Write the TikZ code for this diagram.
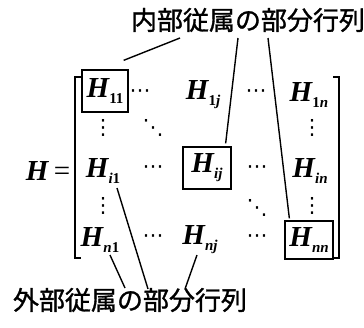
\documentclass[tikz,border=0pt]{standalone}
\usepackage{fontspec}
\setmainfont{Liberation Serif}
\newfontfamily\jpfont[FakeBold=1.2]{Noto Sans CJK JP}
\newfontfamily\dotfont{DejaVu Sans}
\newcommand{\Hsub}[1]{\textit{\textbf{H}}\kern-0.5pt\raisebox{-6pt}{\fontsize{15}{15}\selectfont\bfseries #1}}
\begin{document}
\begin{tikzpicture}[x=1pt,y=-1pt,
  ent/.style={font=\fontsize{29}{29}\selectfont, inner sep=0pt},
  boxed/.style={ent, draw, line width=1.3pt, minimum width=46pt, minimum height=42pt},
  dotsn/.style={font=\dotfont\fontsize{21}{21}\selectfont, inner sep=0pt},
  lbl/.style={font=\jpfont\fontsize{26}{26}\selectfont, inner sep=0pt},
  lead/.style={line width=1.4pt},
  brk/.style={line width=1.4pt}]
\useasboundingbox (0,0) rectangle (364,327);
% labels
\node[lbl] (top) at (248,20) {内部従属の部分行列};
\node[lbl] (bot) at (130,300) {外部従属の部分行列};
% H =
\node[ent] (Hlhs) at (48,171) {\textbf{\textit{H}}\,=};
% brackets
\coordinate (lbt) at (75,77);
\coordinate (lbb) at (75,258);
\coordinate (rbt) at (339,77);
\coordinate (rbb) at (339,258);
\draw[brk] ([xshift=6pt]lbt) -- (lbt) -- (lbb) -- ([xshift=6pt]lbb);
\draw[brk] ([xshift=-6pt]rbt) -- (rbt) -- (rbb) -- ([xshift=-6pt]rbb);
% entries
\node[boxed] (h11) at (105,91) {\Hsub{11}};
\node[ent] (h1j) at (203,95) {\Hsub{1\textit{j}}};
\node[ent] (h1n) at (309,95) {\Hsub{1\textit{n}}};
\node[ent] (hi1) at (103,171) {\Hsub{\textit{i}1}};
\node[boxed, minimum width=48pt] (hij) at (207,168) {\Hsub{\textit{ij}}};
\node[ent] (hin) at (310,171) {\Hsub{\textit{in}}};
\node[ent] (hn1) at (100,240) {\Hsub{\textit{n}1}};
\node[ent] (hnj) at (200,240) {\Hsub{\textit{nj}}};
\node[boxed, minimum width=48pt, minimum height=38pt] (hnn) at (309,240) {\Hsub{\textit{nn}}};
% dots
\node[dotsn] (c1a) at (140,94) {⋯};
\node[dotsn] (c1b) at (256,94) {⋯};
\node[dotsn] (cia) at (153,170) {⋯};
\node[dotsn] (cib) at (257,170) {⋯};
\node[dotsn] (cna) at (153,239) {⋯};
\node[dotsn] (cnb) at (257,239) {⋯};
\node[dotsn] (v1a) at (103,128) {⋮};
\node[dotsn] (v1b) at (103,206) {⋮};
\node[dotsn] (vna) at (312,128) {⋮};
\node[dotsn] (vnb) at (312,206) {⋮};
\node[dotsn] (d1) at (153,128) {⋱};
\node[dotsn] (d2) at (257,208) {⋱};
% leaders to top label
\coordinate (t1) at (180,38);
\coordinate (t2) at (238,38);
\coordinate (t3) at (268,38);
\draw[lead] ([shift={(-5,-9)}]h11.north east) -- (t1);
\draw[lead] ([shift={(-6,-3)}]hij.north east) -- (t2);
\draw[lead] ([shift={(5,-2)}]hnn.north west) -- (t3);
% leaders to bottom label
\coordinate (s1) at (110,255);
\coordinate (s2) at (117,188);
\coordinate (s3) at (197,255);
\coordinate (b1) at (125,288);
\coordinate (b2) at (148,289);
\coordinate (b3) at (185,289);
\draw[lead] (s1) -- (b1);
\draw[lead] (s2) -- (b2);
\draw[lead] (s3) -- (b3);
\end{tikzpicture}
\end{document}
